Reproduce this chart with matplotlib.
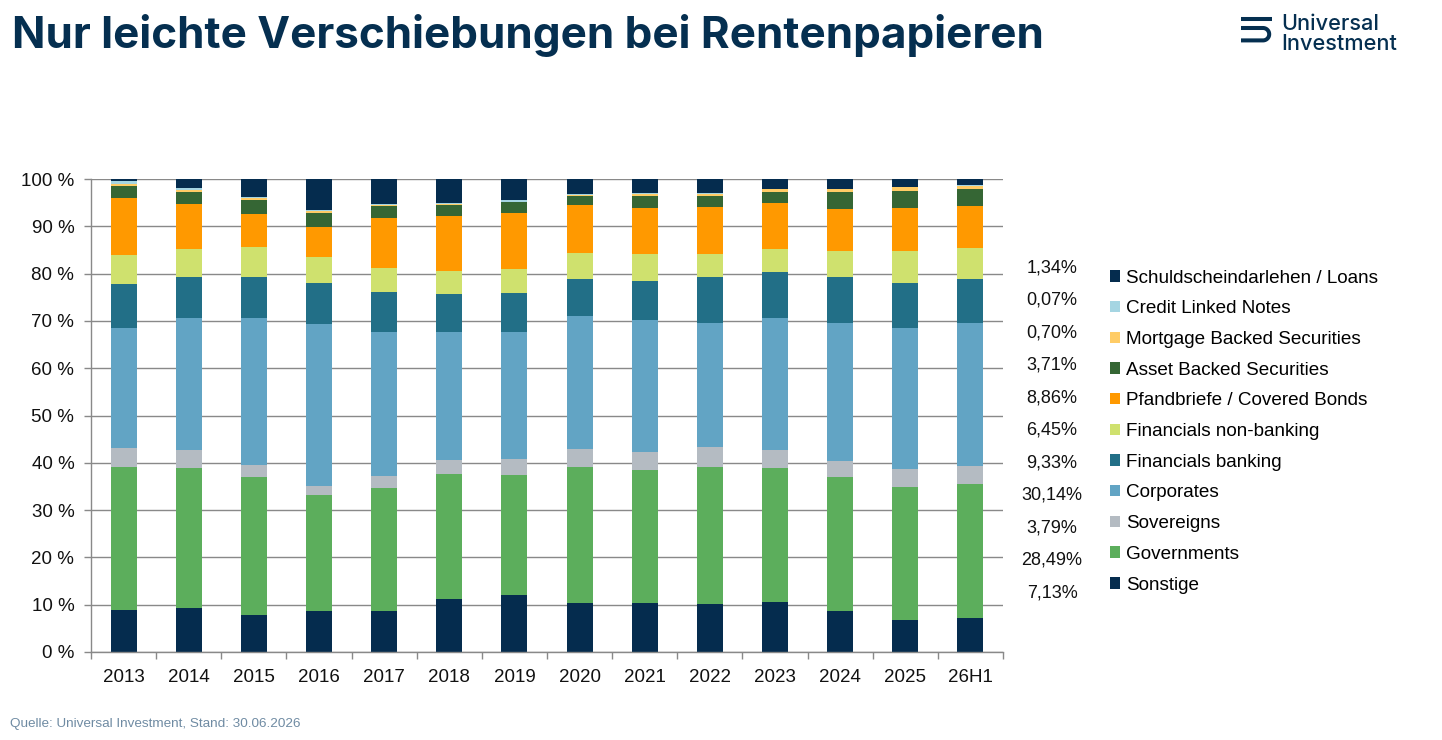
import numpy as np
import matplotlib
matplotlib.use('Agg')
import matplotlib.pyplot as plt
from matplotlib.patches import Patch
from matplotlib.lines import Line2D
from matplotlib.path import Path
from matplotlib.patches import PathPatch

# Bond allocation per year, in % (bottom to top of the stack)
years = ['2013', '2014', '2015', '2016', '2017', '2018', '2019',
         '2020', '2021', '2022', '2023', '2024', '2025', '26H1']
sonstige = [8.9, 9.3, 7.8, 8.7, 8.7, 11.2, 12.1, 10.4, 10.4, 10.1, 10.6, 8.7, 6.8, 7.13]
governments = [30.2, 29.6, 29.2, 24.5, 26.0, 26.4, 25.3, 28.7, 28.1, 29.0, 28.3, 28.3, 28.1, 28.49]
sovereigns = [4.0, 3.8, 2.5, 1.9, 2.5, 3.0, 3.4, 3.8, 3.8, 4.2, 3.8, 3.4, 3.8, 3.79]
corporates = [25.4, 27.9, 31.1, 34.2, 30.5, 27.1, 26.9, 28.1, 27.9, 26.3, 27.9, 29.2, 29.8, 30.14]
fin_banking = [9.3, 8.7, 8.7, 8.7, 8.4, 8.0, 8.2, 7.9, 8.2, 9.6, 9.7, 9.7, 9.5, 9.33]
fin_nonbanking = [6.1, 5.9, 6.3, 5.5, 5.1, 4.8, 5.1, 5.5, 5.7, 4.9, 4.9, 5.5, 6.8, 6.45]
pfandbriefe = [12.1, 9.5, 7.0, 6.4, 10.6, 11.7, 11.8, 10.1, 9.8, 10.0, 9.7, 8.9, 9.1, 8.86]
asset_backed = [2.5, 2.5, 3.0, 2.9, 2.5, 2.3, 2.3, 2.0, 2.5, 2.3, 2.3, 3.6, 3.6, 3.71]
mortgage_backed = [0.5, 0.5, 0.4, 0.4, 0.1, 0.3, 0.05, 0.1, 0.4, 0.5, 0.6, 0.6, 0.8, 0.70]
credit_linked = [0.6, 0.4, 0.2, 0.2, 0.3, 0.1, 0.45, 0.3, 0.2, 0.1, 0.05, 0.05, 0.05, 0.07]
schuldschein = [0.4, 1.9, 3.8, 6.6, 5.3, 5.1, 4.4, 3.1, 3.0, 3.0, 2.15, 2.05, 1.65, 1.34]

series = [
    ('Sonstige', sonstige, '#052c4e'),
    ('Governments', governments, '#5cae5c'),
    ('Sovereigns', sovereigns, '#b4bbc2'),
    ('Corporates', corporates, '#62a4c4'),
    ('Financials banking', fin_banking, '#226f87'),
    ('Financials non-banking', fin_nonbanking, '#cfe16e'),
    ('Pfandbriefe / Covered Bonds', pfandbriefe, '#ff9900'),
    ('Asset Backed Securities', asset_backed, '#356634'),
    ('Mortgage Backed Securities', mortgage_backed, '#ffcc66'),
    ('Credit Linked Notes', credit_linked, '#a5d5e2'),
    ('Schuldscheindarlehen / Loans', schuldschein, '#052c4e'),
]

navy = '#052f50'
grid_grey = '#898989'
W, H = 1442, 740

plt.rcParams['font.family'] = ['Liberation Sans', 'DejaVu Sans']
fig = plt.figure(figsize=(W / 100, H / 100), dpi=100)
ax = fig.add_axes([91 / W, 1 - 652 / H, (1003 - 91) / W, (652 - 179) / H])

x = np.arange(len(years))
bottom = np.zeros(len(years))
for name, vals, col in series:
    vals = np.array(vals)
    ax.bar(x, vals, width=0.4, bottom=bottom, color=col, linewidth=0, zorder=2)
    bottom += vals

ax.set_xlim(-0.5, len(years) - 0.5)
ax.set_ylim(0, 100)
ax.set_yticks(np.arange(0, 101, 10))
ax.set_yticklabels([f'{v} %' for v in range(0, 101, 10)])
ax.set_xticks(x)
ax.set_xticklabels(years)
ax.set_xticks(np.arange(-0.5, len(years), 1), minor=True)
ax.tick_params(axis='x', which='major', length=0, pad=12, labelsize=13.5, colors='#111111')
ax.tick_params(axis='x', which='minor', length=5, width=1, color=grid_grey, direction='out')
ax.tick_params(axis='y', length=5, width=1, color=grid_grey, pad=7, labelsize=13.5, labelcolor='#111111')
ax.grid(axis='y', color=grid_grey, linewidth=1, zorder=0)
ax.set_axisbelow(True)
for s in ['top', 'right']:
    ax.spines[s].set_visible(False)
for s in ['left', 'bottom']:
    ax.spines[s].set_color(grid_grey)
    ax.spines[s].set_linewidth(1)

# Legend, reversed so it reads like the stack
handles = [Patch(facecolor=col, edgecolor='none', label=name) for name, _, col in series][::-1]
leg = fig.legend(handles=handles, loc='upper left', bbox_to_anchor=(1102 / W, 1 - 262 / H),
                 frameon=False, fontsize=13.6, handlelength=0.56, handleheight=0.56,
                 handletextpad=0.3, labelspacing=0.725, borderaxespad=0)

# Values of the latest period next to the legend
latest = [vals[-1] for _, vals, _ in series][::-1]
for i, v in enumerate(latest):
    fig.text(1052 / W, 1 - (268 + i * 32.45) / H, f'{v:.2f}'.replace('.', ',') + '%',
             ha='center', va='center', fontsize=13, color='#111111')

# Title and footer
fig.text(12 / W, 1 - 48 / H, 'Nur leichte Verschiebungen bei Rentenpapieren',
         fontsize=31.7, fontweight='bold', family=['Inter', 'DejaVu Sans'], color=navy,
         ha='left', va='baseline')
fig.text(10 / W, 1 - 727 / H, 'Quelle: Universal Investment, Stand: 30.06.2026',
         fontsize=9.7, color='#6f8ba3', ha='left', va='baseline')

# Logo
fig.add_artist(Line2D([1241 / W, 1272 / W], [1 - 19 / H, 1 - 19 / H], lw=2.9,
                      color=navy, solid_capstyle='butt', transform=fig.transFigure))
r = 6.2
cx, cy = 1263.0, 34.2
theta = np.linspace(np.pi / 2, -np.pi / 2, 30)
px = [1241] + list(cx + r * np.cos(theta)) + [1241]
py = [cy - r] + list(cy - r * np.sin(theta)) + [cy + r]
verts = [(a / W, 1 - b / H) for a, b in zip(px, py)]
fig.add_artist(PathPatch(Path(verts), fill=False, lw=2.9, edgecolor=navy,
                         capstyle='butt', joinstyle='round', transform=fig.transFigure))
fig.text(1281 / W, 1 - 30 / H, 'Universal', fontsize=15.6, family=['Inter', 'DejaVu Sans'],
         fontweight='medium', color=navy, ha='left', va='baseline')
fig.text(1281 / W, 1 - 50 / H, 'Investment', fontsize=15.6, family=['Inter', 'DejaVu Sans'],
         fontweight='medium', color=navy, ha='left', va='baseline')

fig.savefig('out.png', dpi=100)
